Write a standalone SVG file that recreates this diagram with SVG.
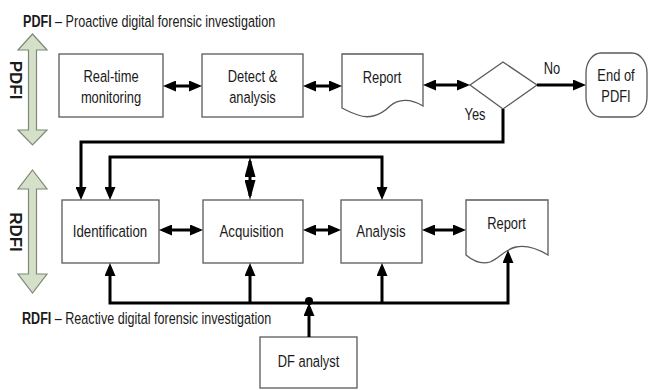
<svg xmlns="http://www.w3.org/2000/svg" width="648" height="390" viewBox="0 0 648 390">
  <style>
    .box { fill: #ffffff; stroke: #5a5a5a; stroke-width: 1.3; }
    .band { fill: #d5e0c9; stroke: #7d8878; stroke-width: 1.2; }
    .lbl { font-family: "Liberation Sans", Arial, sans-serif; font-size: 17px; fill: #1a1a1a; }
    .mid { text-anchor: middle; }
    .b { font-weight: bold; }
    .wire { fill: none; stroke: #000000; stroke-width: 3; stroke-linejoin: miter; }
  </style>
  <defs>
    <marker id="head" viewBox="0 0 13 11" refX="9" refY="5.5" markerWidth="13" markerHeight="11" markerUnits="userSpaceOnUse" orient="auto-start-reverse">
      <path d="M0,0 L13,5.5 L0,11 z" fill="#000"/>
    </marker>
    <marker id="longhead" viewBox="0 0 20 11" refX="16" refY="5.5" markerWidth="20" markerHeight="11" markerUnits="userSpaceOnUse" orient="auto-start-reverse">
      <path d="M0,0 L20,5.5 L0,11 z" fill="#000"/>
    </marker>
  </defs>

  <!-- headings -->
  <g id="title-pdfi">
    <text class="lbl" transform="translate(23,27) scale(0.74,1)"><tspan class="b">PDFI</tspan> – Proactive digital forensic investigation</text>
  </g>
  <g id="title-rdfi">
    <text class="lbl" transform="translate(22,324) scale(0.74,1)"><tspan class="b">RDFI</tspan> – Reactive digital forensic investigation</text>
  </g>

  <!-- phase bands -->
  <g id="band-pdfi">
    <path class="band" d="M32.5,34 L47,50 L36.5,50 L36.5,130 L47,130 L32.5,145 L18,130 L28.5,130 L28.5,50 L18,50 Z"/>
    <text class="lbl b mid" font-size="16" transform="translate(10,80) rotate(90)">PDFI</text>
  </g>
  <g id="band-rdfi">
    <path class="band" d="M32.5,170 L47,189 L36.5,189 L36.5,274 L47,274 L32.5,293 L18,274 L28.5,274 L28.5,189 L18,189 Z"/>
    <text class="lbl b mid" font-size="16" transform="translate(10,232) rotate(90)">RDFI</text>
  </g>

  <!-- proactive row -->
  <g id="realtime">
    <rect class="box" x="59" y="54" width="104" height="63"/>
    <text class="lbl mid" transform="translate(111,82) scale(0.76,1)">Real-time</text>
    <text class="lbl mid" transform="translate(111,103) scale(0.76,1)">monitoring</text>
  </g>
  <g id="detect">
    <rect class="box" x="202" y="54" width="101" height="63"/>
    <text class="lbl mid" transform="translate(252.5,82) scale(0.76,1)">Detect &amp;</text>
    <text class="lbl mid" transform="translate(252.5,103) scale(0.76,1)">analysis</text>
  </g>
  <g id="report-top">
    <path class="box" d="M342,54 H423 V106 C410,98 398,99 390,106 C380,116 368,119 358,115 C351,113 346,110 342,108 Z"/>
    <text class="lbl mid" transform="translate(382,83) scale(0.76,1)">Report</text>
  </g>
  <g id="decision">
    <path class="box" d="M503,62 L537,85 L503,109 L470,85 Z"/>
  </g>
  <g id="end-pdfi">
    <rect class="box" x="586" y="53" width="61" height="64" rx="15" ry="20"/>
    <text class="lbl mid" transform="translate(616,81) scale(0.76,1)">End of</text>
    <text class="lbl mid" transform="translate(616,102) scale(0.76,1)">PDFI</text>
  </g>
  <g id="label-no">
    <text class="lbl mid" transform="translate(552,74) scale(0.76,1)">No</text>
  </g>
  <g id="label-yes">
    <text class="lbl mid" transform="translate(475,120) scale(0.76,1)">Yes</text>
  </g>

  <!-- reactive row -->
  <g id="identification">
    <rect class="box" x="62" y="200" width="97" height="63"/>
    <text class="lbl mid" transform="translate(110,237) scale(0.78,1)">Identification</text>
  </g>
  <g id="acquisition">
    <rect class="box" x="203" y="200" width="100" height="63"/>
    <text class="lbl mid" transform="translate(251.5,237) scale(0.78,1)">Acquisition</text>
  </g>
  <g id="analysis">
    <rect class="box" x="341" y="200" width="81" height="63"/>
    <text class="lbl mid" transform="translate(381,237) scale(0.78,1)">Analysis</text>
  </g>
  <g id="report-bottom">
    <path class="box" d="M466,200 H548 V255 C538,249 526,245 516,247 C505,249 500,258 490,262 C480,265 472,260 466,255 Z"/>
    <text class="lbl mid" transform="translate(506.5,229) scale(0.76,1)">Report</text>
  </g>
  <g id="df-analyst">
    <rect class="box" x="260" y="337" width="97" height="51"/>
    <text class="lbl mid" transform="translate(308.5,367) scale(0.76,1)">DF analyst</text>
  </g>

  <!-- connectors -->
  <g id="connectors">
    <path class="wire" d="M167,86 H198" marker-start="url(#head)" marker-end="url(#head)"/>
    <path class="wire" d="M307,86 H338" marker-start="url(#head)" marker-end="url(#head)"/>
    <path class="wire" d="M427,85 H466" marker-start="url(#head)" marker-end="url(#head)"/>
    <path class="wire" d="M537,85 H582" marker-end="url(#head)"/>
    <path class="wire" d="M503,109 V142 H81 V196" marker-end="url(#head)"/>
    <path class="wire" d="M110,196 V157 H382 V196" marker-start="url(#head)" marker-end="url(#head)"/>
    <path class="wire" d="M250,161 V196" marker-start="url(#longhead)" marker-end="url(#longhead)"/>
    <path class="wire" d="M163,230 H199" marker-start="url(#head)" marker-end="url(#head)"/>
    <path class="wire" d="M307,230 H337" marker-start="url(#head)" marker-end="url(#head)"/>
    <path class="wire" d="M426,230 H462" marker-start="url(#head)" marker-end="url(#head)"/>
    <path class="wire" d="M110,267 V303 H508 V254" marker-start="url(#head)" marker-end="url(#head)"/>
    <path class="wire" d="M250,303 V267" marker-end="url(#head)"/>
    <path class="wire" d="M382,303 V267" marker-end="url(#head)"/>
    <path class="wire" d="M309,337 V307" marker-end="url(#head)"/>
    <circle cx="309" cy="301" r="4" fill="#000"/>
  </g>
</svg>
